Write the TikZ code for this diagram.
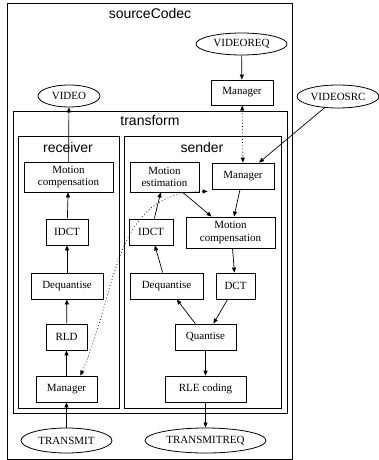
\documentclass[tikz,border=0pt]{standalone}
\usepackage{fontspec}
\setmainfont{Liberation Serif}
\newfontfamily\labelfont{Liberation Sans}
\usetikzlibrary{shapes.geometric,arrows.meta}
\tikzset{
  box/.style={draw, line width=0.8pt, inner sep=0pt, align=center, font=\fontsize{11}{12.5}\selectfont},
  oval/.style={draw, ellipse, line width=0.8pt, inner sep=0pt, font=\fontsize{11}{12.5}\selectfont},
  frame/.style={draw, line width=0.8pt},
  ttl/.style={font=\labelfont\fontsize{14}{16}\selectfont, inner sep=0pt},
  arr/.style={-{Triangle[length=5pt,width=4pt]}, line width=0.7pt},
  darr/.style={{Triangle[length=5pt,width=4pt]}-{Triangle[length=5pt,width=4pt]}, line width=0.7pt, dash pattern=on 0.8pt off 2.4pt},
}
\begin{document}
\begin{tikzpicture}[x=1pt,y=-1pt]
\useasboundingbox (0,0) rectangle (379,460);
% containers
\draw[frame] (7,3) rectangle (292,459);
\node[ttl] (tsc) at (150,13) {sourceCodec};
\draw[frame] (13,111) rectangle (287,413);
\node[ttl] (ttr) at (150,121) {transform};
\draw[frame] (18,136) rectangle (119,408);
\node[ttl] (trc) at (68,147) {receiver};
\draw[frame] (124,136) rectangle (281,408);
\node[ttl] (tsd) at (202,147) {sender};
% ellipses
\node[oval, minimum width=91, minimum height=22] (vreq) at (241.5,44) {VIDEOREQ};
\node[oval, minimum width=62, minimum height=22] (video) at (69,96) {VIDEO};
\node[oval, minimum width=82, minimum height=23] (vsrc) at (338,96.5) {VIDEOSRC};
\node[oval, minimum width=91, minimum height=25] (tx) at (66.5,440.5) {TRANSMIT};
\node[oval, minimum width=121, minimum height=25] (txreq) at (205.5,440.5) {TRANSMITREQ};
% top manager
\node[box, minimum width=62, minimum height=25] (tman) at (242,92.5) {Manager};
% receiver
\node[box, minimum width=89, minimum height=30] (rmc) at (68.5,177) {Motion\\compensation};
\node[box, minimum width=42, minimum height=26] (ridct) at (67,232) {IDCT};
\node[box, minimum width=72, minimum height=26] (rdq) at (67,286) {Dequantise};
\node[box, minimum width=41, minimum height=26] (rld) at (66.5,337) {RLD};
\node[box, minimum width=61, minimum height=26] (rman) at (66.5,389) {Manager};
% sender
\node[box, minimum width=69, minimum height=30] (sme) at (164.5,177) {Motion\\estimation};
\node[box, minimum width=62, minimum height=26] (sman) at (243,176) {Manager};
\node[box, minimum width=89, minimum height=31] (smc) at (230.5,232.5) {Motion\\compensation};
\node[box, minimum width=44, minimum height=26] (sidct) at (151,232) {IDCT};
\node[box, minimum width=73, minimum height=26] (sdq) at (166.5,286) {Dequantise};
\node[box, minimum width=39, minimum height=26] (sdct) at (235.5,286) {DCT};
\node[box, minimum width=61, minimum height=26] (squ) at (205.5,337) {Quantise};
\node[box, minimum width=81, minimum height=26] (srle) at (205.5,389) {RLE coding};
% helper coordinates
\coordinate (smcs) at ([xshift=2pt]smc.south);
\coordinate (rmanp) at ([xshift=-17pt]rman.north east);
\coordinate (smanp) at ([xshift=-4pt,yshift=-2pt]sman.south west);
% edges
\draw[arr] (vreq) -- (tman);
\draw[darr] (tman) -- (sman);
\draw[arr] (vsrc) -- (sman);
\draw[arr] (tx) -- (rman);
\draw[arr] (rman) -- (rld);
\draw[arr] (rld) -- (rdq);
\draw[arr] (rdq) -- (ridct);
\draw[arr] (ridct) -- (rmc);
\draw[arr] (rmc) -- (video);
\draw[arr] (sman) -- (smc);
\draw[arr] (sme) -- (smc);
\draw[arr] (smcs) -- (sdct);
\draw[arr] (sdct) -- (squ);
\draw[arr] (squ) -- (sdq);
\draw[arr] (sdq) -- (sidct);
\draw[arr] (sidct) -- (sme);
\draw[arr] (squ) -- (srle);
\draw[arr] (srle) -- (txreq);
\draw[darr] (rmanp) .. controls (118,290) and (112,192) .. (smanp);
\end{tikzpicture}
\end{document}
